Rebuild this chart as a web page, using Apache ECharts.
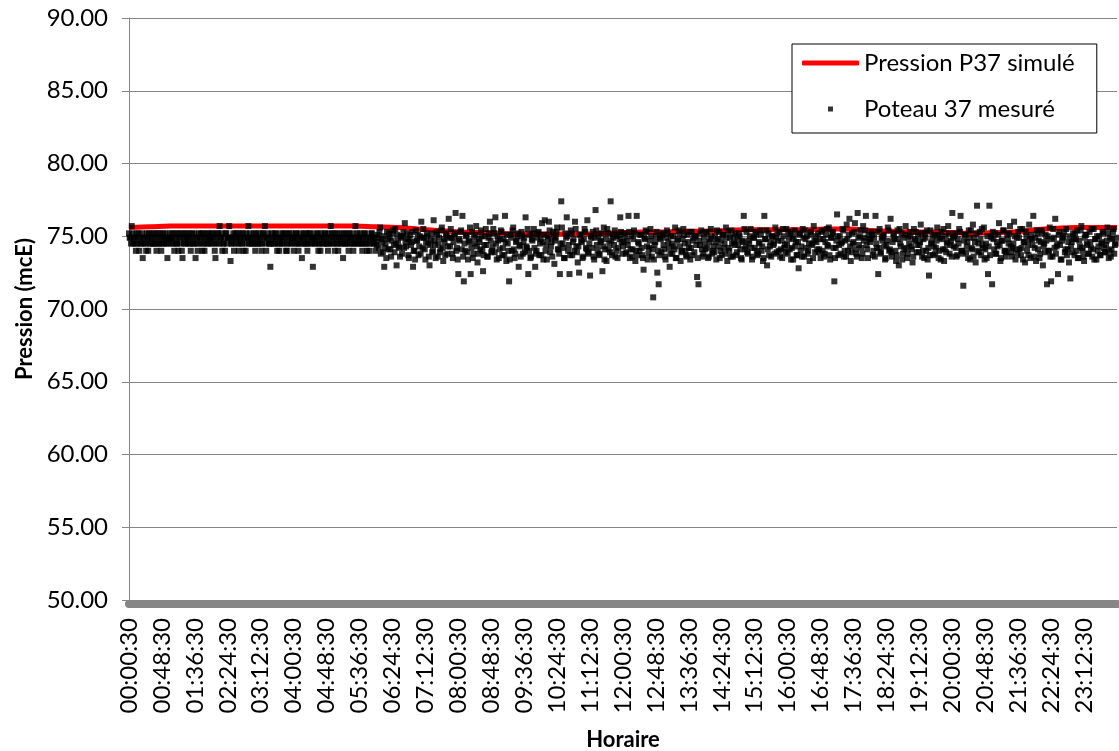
<!DOCTYPE html>
<html lang="fr">

<head>
    <meta charset="UTF-8">
    <title>Pression P37</title>
    <script src="https://cdn.jsdelivr.net/npm/echarts@6/dist/echarts.min.js"></script>
    <style>
        body { margin: 0; background: #fff; }
        #main { width: 1119px; height: 751px; }
    </style>
</head>

<body>
    <div id="main"></div>

    <script>
        // x axis = seconds since 00:00:30, one measure every minute, tick every 48 min
        var xTickLabels = ['00:00:30', '00:48:30', '01:36:30', '02:24:30', '03:12:30', '04:00:30',
            '04:48:30', '05:36:30', '06:24:30', '07:12:30', '08:00:30', '08:48:30', '09:36:30',
            '10:24:30', '11:12:30', '12:00:30', '12:48:30', '13:36:30', '14:24:30', '15:12:30',
            '16:00:30', '16:48:30', '17:36:30', '18:24:30', '19:12:30', '20:00:30', '20:48:30',
            '21:36:30', '22:24:30', '23:12:30'];
        var stepMeasured = 120;   // s, between two values of one array (A = even minute, B = odd minute)
        var stepSimulated = 1800; // s

        // Pression P37 simulé (every 30 min, 00:00 -> 24:00)
        var simulated = [75.6, 75.65, 75.7, 75.7, 75.7, 75.7, 75.7, 75.7, 75.7, 75.7,
            75.7, 75.7, 75.65, 75.6, 75.5, 75.4, 75.3, 75.25, 75.2, 75.15,
            75.15, 75.15, 75.15, 75.2, 75.25, 75.3, 75.3, 75.35, 75.35, 75.4,
            75.45, 75.45, 75.45, 75.45, 75.5, 75.5, 75.4, 75.35, 75.3, 75.3,
            75.25, 75.2, 75.25, 75.3, 75.45, 75.55, 75.6, 75.6, 75.6];

        // Poteau 37 mesuré, 00:00 -> 06:00
        var measuredNightA = [
            75.2, 74.9, 75.7, 74.5, 74.9, 74.0, 74.5, 75.2, 74.9, 74.5,
            73.5, 74.9, 74.5, 75.2, 74.0, 74.9, 74.5, 75.2, 74.5, 74.9,
            74.0, 75.2, 74.5, 74.9, 74.5, 75.2, 74.9, 74.5, 73.5, 74.9,
            75.2, 74.5, 74.9, 74.0, 75.2, 74.5, 74.0, 74.9, 75.2, 73.5,
            74.5, 74.9, 75.2, 74.5, 74.9, 74.0, 75.2, 74.5, 74.9, 74.5,
            74.0, 75.2, 74.9, 74.5, 75.2, 74.0, 74.9, 74.5, 75.2, 74.9,
            74.5, 75.2, 74.9, 73.5, 74.5, 75.2, 75.7, 74.9, 74.0, 74.5,
            74.0, 75.2, 74.9, 75.7, 73.3, 74.5, 75.2, 74.9, 74.5, 75.2,
            74.0, 74.9, 74.5, 75.2, 74.9, 74.0, 74.5, 75.7, 75.2, 74.9,
            74.5, 75.2, 74.0, 74.9, 74.5, 75.2, 74.9, 74.5, 75.2, 75.7,
            74.0, 74.9, 74.5, 72.9, 75.2, 74.9, 74.5, 75.2, 74.0, 74.9,
            74.5, 75.2, 74.9, 74.5, 75.2, 74.0, 74.9, 74.5, 75.2, 74.9,
            74.0, 74.5, 75.2, 74.9, 74.5, 75.2, 73.5, 74.9, 74.5, 75.2,
            74.0, 74.9, 75.2, 74.5, 72.9, 74.9, 75.2, 74.5, 74.0, 74.9,
            75.2, 74.5, 74.9, 75.2, 74.5, 74.0, 74.9, 75.7, 75.2, 74.5,
            74.0, 74.9, 75.2, 74.5, 74.9, 75.2, 73.5, 74.5, 74.9, 75.2,
            74.0, 74.5, 74.9, 75.2, 74.5, 75.7, 74.9, 74.5, 75.2, 74.9,
            74.0, 74.5, 75.2, 74.9, 74.5, 74.0, 74.9, 75.2, 74.5, 74.9];
        var measuredNightB = [
            74.9, 74.5, 75.2, 74.9, 74.5, 75.2, 74.9, 74.0, 74.5, 75.2,
            74.9, 74.5, 74.0, 74.9, 75.2, 74.5, 74.9, 74.5, 75.2, 74.5,
            74.9, 74.5, 75.2, 74.0, 74.9, 74.5, 75.2, 74.9, 74.5, 74.9,
            74.9, 75.2, 74.5, 74.9, 74.5, 75.2, 74.9, 74.5, 74.0, 75.2,
            74.9, 74.5, 74.9, 75.2, 74.5, 74.9, 74.5, 75.2, 73.5, 74.9,
            74.5, 74.9, 75.2, 74.0, 74.5, 74.9, 75.2, 74.5, 74.9, 74.9,
            75.2, 74.5, 74.0, 74.9, 75.2, 74.5, 74.9, 75.2, 74.5, 74.9,
            75.2, 74.5, 74.9, 74.9, 74.5, 74.9, 74.0, 75.2, 74.9, 74.5,
            74.9, 75.2, 74.5, 74.0, 74.9, 75.2, 74.9, 74.5, 74.9, 74.5,
            74.9, 74.5, 75.2, 74.5, 74.9, 74.5, 74.0, 75.2, 74.9, 74.5,
            74.9, 75.2, 74.5, 74.5, 74.9, 74.5, 75.2, 74.9, 74.5, 74.0,
            74.9, 74.5, 75.2, 74.9, 74.0, 74.5, 75.2, 74.9, 74.5, 74.9,
            74.9, 75.2, 74.5, 74.0, 74.9, 74.5, 74.9, 75.2, 74.5, 74.5,
            74.9, 75.2, 74.5, 74.9, 74.9, 74.5, 74.9, 75.2, 74.5, 74.0,
            74.9, 74.5, 75.2, 74.9, 74.5, 74.5, 75.2, 74.9, 74.5, 74.9,
            75.2, 74.5, 74.0, 74.9, 74.5, 74.9, 75.2, 74.5, 74.5, 74.9,
            75.2, 74.9, 74.5, 74.0, 74.9, 74.5, 75.2, 74.9, 74.5, 74.5,
            74.9, 75.2, 74.5, 74.0, 74.9, 74.5, 75.2, 74.9, 74.5, 74.0];

        // 06:00 -> 12:00
        var measuredMorningA = [
            74.6, 75.1, 74.2, 75.6, 74.8, 73.9, 72.9, 74.5, 75.3, 74.1,
            74.9, 73.6, 75.2, 74.4, 75.5, 73.0, 74.7, 74.2, 75.0, 73.8,
            75.3, 75.9, 74.3, 74.8, 73.5, 75.1, 74.6, 72.9, 74.0, 75.4,
            74.7, 73.7, 75.0, 76.0, 74.2, 74.9, 73.4, 75.2, 74.5, 73.0,
            74.8, 73.9, 76.1, 74.4, 75.3, 73.6, 74.9, 74.1, 75.6, 73.3,
            74.6, 75.2, 73.8, 76.2, 74.3, 74.9, 73.5, 75.0, 76.6, 74.2,
            72.4, 74.7, 75.4, 76.4, 71.9, 74.0, 75.1, 73.4, 74.6, 72.4,
            75.3, 73.8, 74.5, 75.7, 73.2, 74.8, 74.1, 75.0, 72.6, 74.4,
            75.5, 73.6, 74.9, 76.0, 73.9, 74.3, 75.2, 76.3, 73.4, 74.7,
            74.1, 75.4, 73.7, 74.8, 76.4, 73.3, 74.5, 71.9, 75.1, 74.0,
            75.6, 73.5, 74.6, 75.0, 72.9, 74.3, 75.3, 73.8, 74.9, 76.3,
            74.2, 72.4, 75.1, 73.6, 74.7, 75.5, 72.9, 74.0, 75.2, 73.7,
            74.8, 75.9, 73.4, 76.1, 74.4, 75.0, 76.0, 73.9, 74.6, 75.3,
            73.1, 74.9, 75.6, 74.1, 72.4, 77.4, 74.5, 73.5, 75.2, 76.3,
            74.0, 72.4, 75.4, 73.7, 74.8, 76.0, 74.3, 73.2, 72.5, 75.1,
            74.6, 73.6, 75.5, 74.2, 76.1, 73.9, 72.3, 74.9, 75.3, 73.4,
            76.8, 74.4, 75.0, 73.8, 74.7, 72.6, 75.6, 74.1, 73.3, 75.2,
            74.5, 77.4, 73.7, 74.9, 75.4, 74.0, 73.5, 75.1, 76.3, 74.6];
        var measuredMorningB = [
            74.4, 74.9, 75.3, 73.8, 74.6, 75.0, 74.2, 73.5, 74.8, 75.2,
            74.1, 74.7, 75.4, 73.9, 74.5, 75.1, 74.3, 73.6, 74.9, 75.0,
            74.2, 74.6, 75.2, 73.7, 74.8, 74.4, 75.3, 74.0, 73.4, 74.7,
            75.1, 74.3, 73.8, 74.9, 75.5, 74.1, 74.6, 75.0, 73.6, 74.4,
            75.2, 74.0, 74.7, 73.5, 75.1, 74.5, 73.9, 75.4, 74.2, 74.8,
            73.7, 75.0, 74.3, 74.9, 75.5, 73.8, 74.6, 75.2, 74.0, 73.4,
            74.8, 75.3, 74.1, 73.6, 74.5, 75.0, 73.9, 74.7, 75.6, 74.2,
            73.5, 74.9, 75.1, 74.3, 73.8, 74.6, 75.4, 74.0, 73.7, 75.0,
            74.4, 73.6, 75.2, 74.7, 74.0, 75.5, 73.9, 74.5, 75.0, 73.5,
            74.8, 75.3, 74.2, 73.7, 74.6, 75.1, 74.0, 73.4, 74.9, 75.4,
            74.1, 73.8, 74.7, 75.2, 74.4, 73.6, 75.0, 74.6, 73.9, 74.3,
            75.5, 74.0, 73.5, 74.8, 75.2, 74.2, 73.8, 74.9, 75.3, 74.5,
            73.7, 74.6, 75.1, 74.0, 73.4, 74.8, 75.4, 74.3, 73.6, 75.0,
            74.7, 75.3, 74.1, 73.8, 74.5, 75.6, 74.2, 73.5, 74.9, 75.0,
            74.4, 73.7, 75.2, 74.6, 74.0, 75.5, 73.9, 74.3, 75.1, 74.7,
            73.5, 74.8, 75.3, 74.1, 73.8, 74.5, 75.0, 74.2, 73.6, 74.9,
            75.4, 74.0, 73.7, 74.6, 75.2, 74.3, 73.4, 74.8, 75.5, 74.1,
            73.9, 74.7, 75.1, 74.4, 73.6, 75.0, 74.2, 74.8, 75.3, 73.8];

        // 12:00 -> 18:00
        var measuredAfternoonA = [
            74.3, 75.2, 73.8, 74.7, 76.4, 73.5, 75.0, 74.1, 75.4, 73.3,
            76.4, 74.6, 74.0, 75.1, 73.7, 72.7, 74.8, 75.3, 73.4, 74.2,
            75.5, 73.6, 70.8, 74.4, 75.0, 72.5, 71.7, 74.9, 73.9, 75.2,
            74.1, 73.4, 75.4, 74.6, 72.9, 75.0, 73.8, 74.3, 75.6, 73.5,
            74.8, 75.2, 73.3, 74.0, 75.5, 74.5, 73.7, 75.1, 74.2, 73.4,
            75.3, 74.7, 73.9, 75.0, 72.2, 71.7, 74.4, 75.4, 73.6, 74.9,
            74.1, 75.2, 73.5, 74.6, 75.5, 73.8, 74.3, 75.0, 73.4, 74.8,
            75.3, 74.0, 73.7, 75.1, 74.5, 75.6, 73.3, 74.2, 74.9, 75.4,
            73.6, 74.6, 75.2, 73.9, 74.4, 75.0, 73.5, 74.7, 76.4, 74.1,
            75.3, 73.8, 74.5, 75.5, 73.4, 74.9, 74.2, 75.1, 73.7, 74.6,
            75.4, 74.0, 73.3, 76.4, 74.8, 73.0, 75.2, 74.3, 73.6, 75.0,
            74.5, 75.6, 73.9, 74.7, 75.3, 74.1, 73.5, 75.0, 74.4, 75.5,
            73.8, 74.9, 75.2, 74.2, 73.4, 75.4, 74.6, 73.7, 72.8, 75.1,
            74.3, 75.5, 73.6, 74.8, 75.0, 74.0, 73.3, 75.3, 74.5, 75.7,
            73.9, 74.6, 75.2, 74.1, 73.5, 75.4, 74.8, 73.8, 75.1, 74.4,
            75.6, 73.4, 74.9, 75.3, 71.9, 74.2, 76.5, 73.7, 75.0, 74.5,
            75.5, 73.6, 74.7, 75.8, 74.0, 76.2, 73.3, 75.2, 74.6, 75.9,
            73.8, 76.6, 74.4, 75.4, 73.5, 75.7, 74.9, 76.4, 74.1, 75.1];
        var measuredAfternoonB = [
            74.6, 75.0, 73.9, 74.4, 75.3, 74.1, 73.6, 74.8, 75.2, 74.0,
            73.7, 74.5, 75.1, 74.2, 73.5, 74.9, 75.4, 74.3, 73.8, 74.7,
            75.0, 74.1, 73.4, 74.6, 75.3, 74.0, 73.7, 74.8, 75.1, 74.4,
            73.6, 74.9, 75.2, 74.2, 73.8, 74.5, 75.0, 74.1, 73.5, 74.7,
            75.4, 74.3, 73.9, 74.8, 75.1, 74.0, 73.6, 74.6, 75.3, 74.2,
            73.7, 74.9, 75.0, 74.4, 73.5, 74.7, 75.2, 74.1, 73.8, 74.5,
            75.3, 74.2, 73.6, 74.8, 75.0, 74.0, 73.9, 74.6, 75.4, 74.3,
            73.5, 74.7, 75.1, 74.2, 73.8, 74.9, 75.3, 74.0, 73.6, 74.5,
            75.0, 74.4, 73.7, 74.8, 75.2, 74.1, 73.4, 74.6, 75.5, 74.3,
            73.9, 74.7, 75.0, 74.2, 73.6, 74.9, 75.3, 74.0, 73.8, 74.5,
            75.1, 74.3, 73.5, 74.8, 75.4, 74.1, 73.7, 74.6, 75.0, 74.4,
            73.8, 74.9, 75.2, 74.0, 73.6, 74.7, 75.5, 74.2, 73.9, 74.5,
            75.3, 74.1, 73.4, 74.8, 75.0, 74.3, 73.7, 74.6, 75.2, 74.0,
            73.6, 74.9, 75.4, 74.2, 73.8, 74.5, 75.1, 74.4, 73.5, 74.7,
            75.0, 74.1, 73.9, 74.8, 75.3, 74.0, 73.6, 74.6, 75.5, 74.3,
            73.7, 74.9, 75.2, 74.2, 73.5, 74.7, 75.0, 74.4, 73.8, 74.6,
            75.4, 74.0, 73.6, 74.8, 75.1, 74.3, 73.9, 74.5, 75.3, 74.1,
            73.6, 74.9, 75.0, 74.2, 73.8, 74.7, 75.4, 74.4, 73.5, 74.8];

        // 18:00 -> 24:00
        var measuredEveningA = [
            74.6, 75.3, 73.7, 74.9, 76.4, 74.2, 72.4, 75.5, 73.9, 74.7,
            75.1, 73.4, 74.4, 75.6, 74.0, 76.2, 73.6, 75.0, 74.8, 73.3,
            75.4, 73.0, 74.5, 75.2, 73.8, 74.1, 75.7, 73.5, 74.9, 75.3,
            74.3, 73.2, 75.5, 74.7, 73.9, 75.0, 74.4, 75.8, 73.6, 74.8,
            75.2, 74.0, 73.4, 72.3, 75.4, 74.6, 73.7, 75.1, 74.2, 75.6,
            73.5, 74.9, 75.3, 74.1, 73.3, 75.0, 74.5, 75.7, 73.8, 74.7,
            76.6, 74.3, 75.2, 73.6, 74.8, 75.5, 76.4, 74.0, 71.6, 75.1,
            73.9, 74.6, 75.4, 73.4, 74.2, 75.8, 74.9, 73.2, 77.1, 74.5,
            75.3, 73.7, 74.4, 75.6, 74.1, 73.5, 72.4, 77.1, 75.0, 71.7,
            74.8, 75.2, 73.8, 74.3, 75.9, 73.3, 74.7, 75.4, 74.0, 73.6,
            75.1, 74.5, 75.7, 73.9, 74.2, 76.0, 73.4, 74.9, 75.3, 74.1,
            73.7, 75.5, 74.6, 73.2, 75.0, 74.4, 75.8, 73.5, 74.8, 76.4,
            74.2, 73.3, 75.2, 74.7, 73.8, 75.4, 73.0, 74.5, 75.1, 71.7,
            74.0, 75.6, 71.9, 73.6, 74.9, 76.2, 74.3, 72.4, 75.3, 73.4,
            74.7, 75.0, 73.9, 75.5, 74.1, 73.2, 72.1, 74.6, 75.2, 73.7,
            74.8, 75.4, 73.5, 74.3, 75.7, 74.0, 73.3, 75.1, 74.5, 73.8,
            75.3, 74.2, 73.6, 75.5, 74.8, 73.4, 74.0, 75.0, 73.7, 74.6,
            75.2, 73.9, 74.4, 75.6, 73.5, 74.9, 74.1, 75.3, 73.8, 74.5];
        var measuredEveningB = [
            74.8, 75.1, 74.0, 73.6, 74.5, 75.3, 74.2, 73.8, 74.9, 75.0,
            74.3, 73.5, 74.7, 75.4, 74.1, 73.9, 74.6, 75.2, 74.0, 73.7,
            74.8, 75.5, 74.3, 73.4, 74.9, 75.1, 74.2, 73.8, 74.5, 75.0,
            74.1, 73.6, 74.8, 75.3, 74.4, 73.9, 74.6, 75.2, 74.0, 73.5,
            74.9, 75.4, 74.2, 73.7, 74.5, 75.0, 74.3, 73.8, 74.7, 75.1,
            74.0, 73.4, 74.8, 75.5, 74.1, 73.9, 74.6, 75.2, 74.4, 73.6,
            74.9, 75.0, 74.2, 73.7, 74.5, 75.3, 74.0, 73.8, 74.7, 75.1,
            74.3, 73.5, 74.9, 75.4, 74.1, 73.6, 74.6, 75.2, 74.0, 73.9,
            74.8, 75.5, 74.2, 73.4, 74.5, 75.0, 74.3, 73.7, 74.9, 75.3,
            74.1, 73.8, 74.6, 75.1, 74.4, 73.5, 74.7, 75.4, 74.0, 73.9,
            74.8, 75.2, 74.3, 73.6, 74.5, 75.0, 74.1, 73.8, 74.9, 75.5,
            74.2, 73.4, 74.6, 75.3, 74.0, 73.7, 74.8, 75.1, 74.4, 73.6,
            74.9, 75.4, 74.1, 73.5, 74.6, 75.2, 74.3, 73.9, 74.7, 75.0,
            74.0, 73.6, 74.8, 75.5, 74.2, 73.8, 74.5, 75.1, 74.4, 73.4,
            74.9, 75.3, 74.1, 73.7, 74.6, 75.0, 74.3, 73.9, 74.8, 75.2,
            74.0, 73.5, 74.7, 75.4, 74.2, 73.6, 74.9, 75.1, 74.4, 73.8,
            74.6, 75.5, 74.1, 73.4, 74.8, 75.0, 74.3, 73.7, 74.5, 75.3,
            74.2, 73.9, 74.7, 75.2, 74.0, 73.6, 74.8, 75.5, 74.4, 74.9];

        var periodsA = [measuredNightA, measuredMorningA, measuredAfternoonA, measuredEveningA];
        var periodsB = [measuredNightB, measuredMorningB, measuredAfternoonB, measuredEveningB];
        var measuredPoints = [];
        periodsA.forEach(function (arrA, p) {
            var arrB = periodsB[p];
            arrA.forEach(function (v, i) {
                var t = (p * arrA.length + i) * stepMeasured;
                measuredPoints.push([t, v]);
                measuredPoints.push([t + stepMeasured / 2, arrB[i]]);
            });
        });

        var chart = echarts.init(document.getElementById('main'));
        var font = 'Lato';

        var option = {
            animation: false,
            textStyle: { fontFamily: font },
            grid: { left: 129, right: 2, top: 18, bottom: 151, outerBoundsMode: 'none' },
            legend: {
                orient: 'vertical',
                left: 792,
                top: 44,
                padding: [7, 22, 12, 10],
                itemGap: 22,
                itemWidth: 57,
                itemHeight: 5,
                backgroundColor: '#fff',
                borderColor: '#000',
                borderWidth: 1,
                textStyle: { fontFamily: font, fontSize: 24, color: '#000' },
                data: [
                    { name: 'Pression P37 simulé', icon: 'roundRect' },
                    { name: 'Poteau 37 mesuré', icon: 'path://M0,0h1v1h-1z' }
                ]
            },
            xAxis: {
                type: 'value',
                min: 0,
                max: 86400,
                interval: 2880,
                offset: 4,
                name: 'Horaire',
                nameLocation: 'middle',
                nameGap: 125,
                nameTextStyle: { fontFamily: font, fontSize: 22, fontWeight: 'bold', color: '#000' },
                axisLine: { lineStyle: { color: '#868686', width: 8 } },
                axisTick: { show: false },
                splitLine: { show: false },
                axisLabel: {
                    rotate: 90,
                    margin: 14,
                    showMaxLabel: false,
                    fontFamily: font,
                    fontSize: 24,
                    color: '#000',
                    formatter: function (v) { return xTickLabels[Math.round(v / 2880)] || ''; }
                }
            },
            yAxis: {
                type: 'value',
                min: 50,
                max: 90,
                interval: 5,
                name: 'Pression (mcE)',
                nameLocation: 'middle',
                nameRotate: 90,
                nameGap: 93,
                nameTextStyle: { fontFamily: font, fontSize: 22, fontWeight: 'bold', color: '#000' },
                axisLine: { show: true, lineStyle: { color: '#868686', width: 1 } },
                axisTick: { show: true, length: 7, lineStyle: { color: '#868686' } },
                splitLine: { lineStyle: { color: '#868686', width: 1 } },
                axisLabel: {
                    margin: 21,
                    fontFamily: font,
                    fontSize: 24,
                    color: '#000',
                    formatter: function (v) { return v.toFixed(2); }
                }
            },
            series: [
                {
                    name: 'Pression P37 simulé',
                    type: 'line',
                    smooth: true,
                    showSymbol: false,
                    symbol: 'none',
                    color: '#ff0000',
                    lineStyle: { color: '#ff0000', width: 5 },
                    z: 2,
                    data: simulated.map(function (v, i) { return [i * stepSimulated, v]; })
                },
                {
                    name: 'Poteau 37 mesuré',
                    type: 'scatter',
                    symbol: 'rect',
                    symbolSize: 6,
                    color: '#000',
                    itemStyle: { color: '#000' },
                    z: 3,
                    data: measuredPoints
                }
            ]
        };

        chart.setOption(option);
    </script>
</body>

</html>
